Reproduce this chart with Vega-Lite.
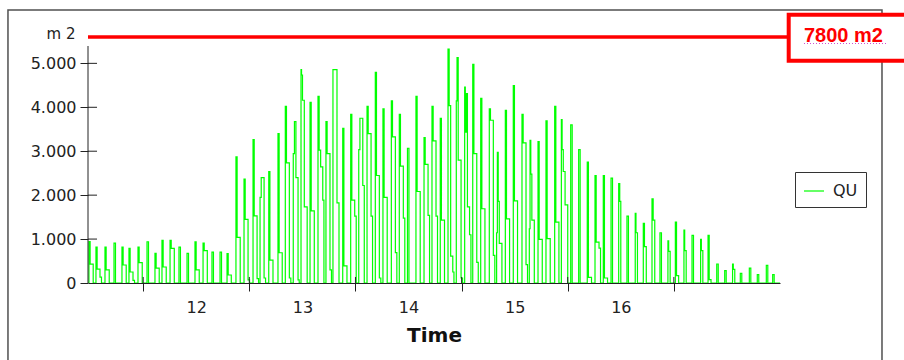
{
"$schema": "https://vega.github.io/schema/vega-lite/v6.json",
"width": 692, "height": 246,
"autosize": "none",
"padding": {"left": 88, "top": 37, "right": 124, "bottom": 77},
"background": "white",
"config": {"view": {"stroke": null}, "font": "DejaVu Sans"},
"datasets": {"one": [{}],
"yticks": [{"y":1000},{"y":2000},{"y":3000},{"y":4000},{"y":5000}],
"xticks": [{"x":11.5},{"x":12.5},{"x":13.5},{"x":14.5},{"x":15.5},{"x":16.5}],
"qu": [
{"t":10.98,"v":0},
{"t":10.989,"v":940},{"t":11.000,"v":430},{"t":11.029,"v":0},
{"t":11.055,"v":818},{"t":11.066,"v":318},{"t":11.093,"v":136},{"t":11.107,"v":0},
{"t":11.140,"v":818},{"t":11.151,"v":300},{"t":11.180,"v":0},
{"t":11.225,"v":909},{"t":11.239,"v":0},
{"t":11.300,"v":818},{"t":11.311,"v":410},{"t":11.340,"v":0},
{"t":11.366,"v":788},{"t":11.377,"v":250},{"t":11.404,"v":60},{"t":11.418,"v":0},
{"t":11.451,"v":818},{"t":11.462,"v":462},{"t":11.491,"v":0},
{"t":11.536,"v":939},{"t":11.550,"v":0},
{"t":11.611,"v":674},{"t":11.622,"v":340},{"t":11.651,"v":0},
{"t":11.677,"v":970},{"t":11.688,"v":364},{"t":11.717,"v":0},
{"t":11.753,"v":970},{"t":11.764,"v":788},{"t":11.793,"v":0},
{"t":11.837,"v":818},{"t":11.851,"v":0},
{"t":11.913,"v":674},{"t":11.927,"v":0},
{"t":11.988,"v":939},{"t":11.999,"v":300},{"t":12.028,"v":0},
{"t":12.064,"v":909},{"t":12.075,"v":735},{"t":12.104,"v":0},
{"t":12.148,"v":705},{"t":12.162,"v":0},
{"t":12.224,"v":705},{"t":12.238,"v":0},
{"t":12.290,"v":667},{"t":12.301,"v":182},{"t":12.330,"v":0},
{"t":12.374,"v":2871},{"t":12.385,"v":1038},{"t":12.414,"v":0},
{"t":12.450,"v":2364},{"t":12.461,"v":1447},{"t":12.488,"v":70},{"t":12.502,"v":0},
{"t":12.535,"v":3265},{"t":12.546,"v":1530},{"t":12.573,"v":100},{"t":12.587,"v":0},
{"t":12.601,"v":1947},{"t":12.612,"v":2401},{"t":12.639,"v":114},{"t":12.653,"v":0},
{"t":12.683,"v":2538},{"t":12.694,"v":523},{"t":12.723,"v":0},
{"t":12.770,"v":3402},{"t":12.781,"v":689},{"t":12.810,"v":0},
{"t":12.839,"v":4023},{"t":12.850,"v":2735},{"t":12.877,"v":114},{"t":12.891,"v":0},
{"t":12.914,"v":2947},{"t":12.925,"v":3674},{"t":12.939,"v":2400},{"t":12.959,"v":70},{"t":12.970,"v":0},
{"t":12.987,"v":4856},{"t":12.992,"v":4735},{"t":13.001,"v":4160},{"t":13.018,"v":1735},{"t":13.045,"v":0},
{"t":13.072,"v":4114},{"t":13.083,"v":1644},{"t":13.112,"v":0},
{"t":13.147,"v":4250},{"t":13.158,"v":3023},{"t":13.172,"v":2644},{"t":13.192,"v":1886},{"t":13.203,"v":0},
{"t":13.222,"v":3674},{"t":13.233,"v":2947},{"t":13.260,"v":300},{"t":13.274,"v":0},
{"t":13.288,"v":4856},{"t":13.326,"v":1826},{"t":13.345,"v":0},
{"t":13.380,"v":3523},{"t":13.391,"v":390},{"t":13.420,"v":0},
{"t":13.455,"v":3841},{"t":13.466,"v":1886},{"t":13.493,"v":1523},{"t":13.507,"v":0},
{"t":13.531,"v":3038},{"t":13.542,"v":3750},{"t":13.569,"v":2220},{"t":13.583,"v":0},
{"t":13.609,"v":4023},{"t":13.620,"v":3400},{"t":13.647,"v":1523},{"t":13.661,"v":0},
{"t":13.687,"v":4795},{"t":13.698,"v":2447},{"t":13.725,"v":114},{"t":13.739,"v":0},
{"t":13.759,"v":3962},{"t":13.770,"v":1947},{"t":13.799,"v":0},
{"t":13.838,"v":4144},{"t":13.849,"v":3326},{"t":13.876,"v":690},{"t":13.890,"v":0},
{"t":13.913,"v":3841},{"t":13.924,"v":2659},{"t":13.951,"v":1477},{"t":13.965,"v":0},
{"t":13.990,"v":3068},{"t":14.004,"v":0},
{"t":14.070,"v":4250},{"t":14.081,"v":2083},{"t":14.110,"v":0},
{"t":14.146,"v":3311},{"t":14.157,"v":2700},{"t":14.184,"v":1540},{"t":14.198,"v":0},
{"t":14.221,"v":4023},{"t":14.232,"v":3235},{"t":14.259,"v":1523},{"t":14.273,"v":0},
{"t":14.299,"v":3750},{"t":14.310,"v":1432},{"t":14.339,"v":0},
{"t":14.372,"v":5326},{"t":14.383,"v":4038},{"t":14.397,"v":614},{"t":14.417,"v":250},{"t":14.428,"v":0},
{"t":14.450,"v":4144},{"t":14.457,"v":5129},{"t":14.468,"v":2795},{"t":14.495,"v":114},{"t":14.509,"v":0},
{"t":14.529,"v":4462},{"t":14.535,"v":3432},{"t":14.545,"v":4310},{"t":14.555,"v":1735},{"t":14.575,"v":1098},{"t":14.588,"v":0},
{"t":14.605,"v":4977},{"t":14.616,"v":2947},{"t":14.643,"v":470},{"t":14.657,"v":0},
{"t":14.680,"v":4205},{"t":14.691,"v":1690},{"t":14.720,"v":0},
{"t":14.761,"v":3962},{"t":14.772,"v":3705},{"t":14.799,"v":630},{"t":14.813,"v":0},
{"t":14.830,"v":1144},{"t":14.837,"v":2977},{"t":14.845,"v":1856},{"t":14.855,"v":900},{"t":14.880,"v":0},
{"t":14.912,"v":3932},{"t":14.923,"v":1462},{"t":14.952,"v":0},
{"t":14.987,"v":4492},{"t":14.998,"v":1871},{"t":15.027,"v":0},
{"t":15.069,"v":3841},{"t":15.080,"v":3190},{"t":15.107,"v":420},{"t":15.121,"v":0},
{"t":15.138,"v":1235},{"t":15.145,"v":3250},{"t":15.152,"v":2477},{"t":15.162,"v":1432},{"t":15.185,"v":0},
{"t":15.220,"v":3220},{"t":15.231,"v":992},{"t":15.260,"v":0},
{"t":15.295,"v":3690},{"t":15.306,"v":1008},{"t":15.335,"v":0},
{"t":15.377,"v":4023},{"t":15.388,"v":1386},{"t":15.417,"v":0},
{"t":15.440,"v":3720},{"t":15.447,"v":3038},{"t":15.458,"v":2538},{"t":15.475,"v":1780},{"t":15.500,"v":0},
{"t":15.528,"v":3598},{"t":15.542,"v":0},
{"t":15.603,"v":3038},{"t":15.617,"v":0},
{"t":15.684,"v":2750},{"t":15.695,"v":130},{"t":15.724,"v":0},
{"t":15.757,"v":2447},{"t":15.768,"v":932},{"t":15.795,"v":796},{"t":15.809,"v":0},
{"t":15.835,"v":2447},{"t":15.846,"v":114},{"t":15.875,"v":0},
{"t":15.908,"v":2386},{"t":15.922,"v":0},
{"t":15.980,"v":2265},{"t":15.990,"v":1856},{"t":16.000,"v":0},
{"t":16.058,"v":1523},{"t":16.072,"v":0},
{"t":16.136,"v":1583},{"t":16.143,"v":1144},{"t":16.157,"v":0},
{"t":16.212,"v":1356},{"t":16.223,"v":830},{"t":16.240,"v":0},
{"t":16.294,"v":1917},{"t":16.305,"v":1432},{"t":16.320,"v":0},
{"t":16.369,"v":1144},{"t":16.383,"v":0},
{"t":16.444,"v":962},{"t":16.451,"v":720},{"t":16.465,"v":0},
{"t":16.514,"v":1386},{"t":16.525,"v":167},{"t":16.545,"v":0},
{"t":16.595,"v":1205},{"t":16.602,"v":735},{"t":16.616,"v":0},
{"t":16.671,"v":1083},{"t":16.685,"v":0},
{"t":16.752,"v":992},{"t":16.759,"v":735},{"t":16.773,"v":0},
{"t":16.822,"v":1083},{"t":16.833,"v":75},{"t":16.850,"v":0},
{"t":16.904,"v":432},{"t":16.918,"v":0},
{"t":16.979,"v":280},{"t":16.993,"v":0},
{"t":17.053,"v":432},{"t":17.060,"v":310},{"t":17.074,"v":0},
{"t":17.126,"v":220},{"t":17.140,"v":0},
{"t":17.211,"v":340},{"t":17.225,"v":0},
{"t":17.286,"v":190},{"t":17.300,"v":0},
{"t":17.371,"v":400},{"t":17.385,"v":0},
{"t":17.431,"v":190},{"t":17.445,"v":0},
{"t":17.5,"v":0}
]},
"layer": [
{
 "data": {"name": "one"},
 "mark": {"type": "rect", "fill": null, "fillOpacity": 0, "stroke": "#505050", "strokeWidth": 1.5, "clip": false},
 "encoding": {
  "x": {"datum": 10.226, "type": "quantitative"},
  "x2": {"datum": 18.461},
  "y": {"datum": 6215, "type": "quantitative"},
  "y2": {"datum": -2500}
 }
},
{
 "data": {"name": "qu"},
 "mark": {"type": "line", "interpolate": "step-after", "strokeWidth": 1.2, "clip": true},
 "encoding": {
  "x": {"field": "t", "type": "quantitative",
   "scale": {"domain": [10.98, 17.5], "nice": false, "zero": false},
   "axis": {"values": [11.5,12,12.5,13,13.5,14,14.5,15,15.5,16,16.5],
    "labelExpr": "datum.value % 1 == 0 ? format(datum.value, 'd') : ''",
    "tickOpacity": {"condition": {"test": "datum.value % 1 != 0", "value": 1}, "value": 0},
    "tickSize": 8, "tickColor": "#222222", "domainColor": "#222222", "grid": false,
    "labelOverlap": false, "labelFlush": false,
    "labelFontSize": 16, "labelPadding": 8, "labelColor": "#222222", "labelFont": "DejaVu Sans",
    "title": "Time", "titleFont": "DejaVu Sans", "titleFontSize": 20, "titleFontWeight": "bold",
    "titleColor": "#111111", "titlePadding": 10}
  },
  "y": {"field": "v", "type": "quantitative",
   "scale": {"domain": [0, 5600], "nice": false},
   "axis": {"values": [0,1000,2000,3000,4000,5000],
    "labelExpr": "replace(format(datum.value, ','), ',', '.')",
    "domain": false, "tickSize": 8, "tickColor": "#222222", "grid": false,
    "labelFontSize": 16, "labelPadding": 4, "labelColor": "#222222", "labelFont": "DejaVu Sans",
    "title": "m 2", "titleAngle": 0, "titleAlign": "right", "titleBaseline": "alphabetic",
    "titleX": -13, "titleY": 1, "titleFontWeight": "normal", "titleFontSize": 15,
    "titleFont": "DejaVu Sans", "titleColor": "#222222"}
  },
  "color": {"datum": "QU", "type": "nominal",
   "scale": {"range": ["#00ff00"]},
   "legend": {"orient": "none", "legendX": 707, "legendY": 135, "title": null,
    "strokeColor": "#333333", "fillColor": "white", "padding": 8,
    "symbolType": "stroke", "symbolSize": 400, "symbolStrokeWidth": 1.2,
    "labelFontSize": 16, "labelColor": "#222222", "labelFont": "DejaVu Sans", "labelOffset": 8}
  }
 }
},
{
 "data": {"name": "one"},
 "mark": {"type": "rule", "color": "#222222", "strokeWidth": 1},
 "encoding": {
  "x": {"datum": 10.98, "type": "quantitative"},
  "y": {"datum": 0, "type": "quantitative"},
  "y2": {"datum": 5395}
 }
},
{
 "data": {"name": "yticks"},
 "mark": {"type": "rule", "color": "#222222", "strokeWidth": 1},
 "encoding": {
  "x": {"datum": 10.98, "type": "quantitative"},
  "x2": {"datum": 11.065},
  "y": {"field": "y", "type": "quantitative"}
 }
},
{
 "data": {"name": "xticks"},
 "mark": {"type": "rule", "color": "#222222", "strokeWidth": 1},
 "encoding": {
  "x": {"field": "x", "type": "quantitative"},
  "y": {"datum": 0, "type": "quantitative"},
  "y2": {"datum": 137}
 }
},
{
 "data": {"name": "one"},
 "mark": {"type": "rule", "color": "#ff0000", "strokeWidth": 3.5, "clip": false},
 "encoding": {
  "x": {"datum": 10.98, "type": "quantitative"},
  "x2": {"datum": 17.6},
  "y": {"datum": 5600, "type": "quantitative"}
 }
},
{
 "data": {"name": "one"},
 "mark": {"type": "rect", "fill": "white", "stroke": "#ff0000", "strokeWidth": 4, "clip": false},
 "encoding": {
  "x": {"datum": 17.582, "type": "quantitative"},
  "x2": {"datum": 18.7},
  "y": {"datum": 6108, "type": "quantitative"},
  "y2": {"datum": 5060}
 }
},
{
 "data": {"name": "one"},
 "mark": {"type": "text", "text": "7800 m2", "font": "Liberation Sans", "fontWeight": "bold", "fontSize": 20, "color": "#ff0000", "align": "left", "baseline": "alphabetic", "clip": false},
 "encoding": {
  "x": {"datum": 17.726, "type": "quantitative"},
  "y": {"datum": 5497, "type": "quantitative"}
 }
},
{
 "data": {"name": "one"},
 "mark": {"type": "rule", "color": "#d050d0", "strokeWidth": 1, "strokeDash": [1, 2], "clip": false},
 "encoding": {
  "x": {"datum": 17.726, "type": "quantitative"},
  "x2": {"datum": 18.499},
  "y": {"datum": 5452, "type": "quantitative"}
 }
}
]
}
